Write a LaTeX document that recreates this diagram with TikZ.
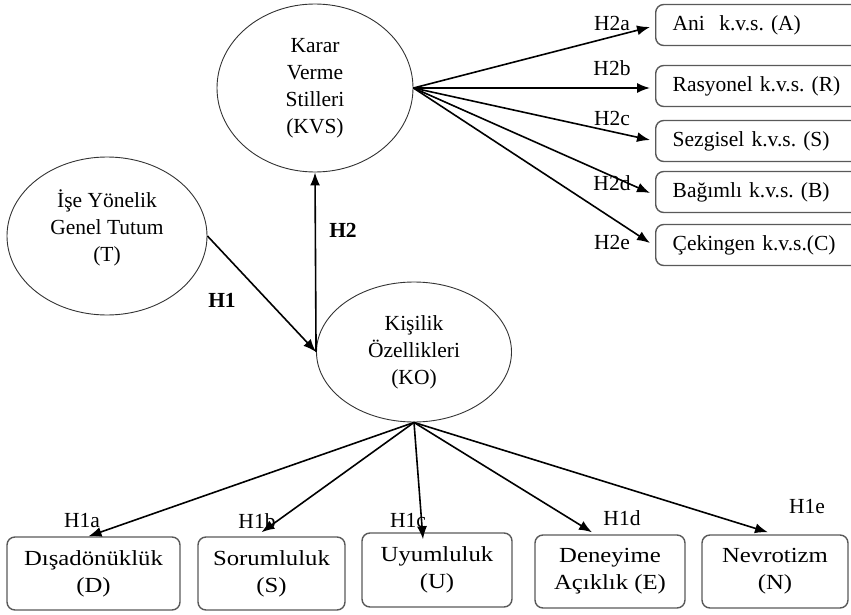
\documentclass[tikz,border=0pt]{standalone}
\usepackage{fontspec}
\setmainfont{Liberation Serif}
\newfontfamily\widefont[FakeStretch=1.15]{Liberation Serif}
\usetikzlibrary{shapes.geometric,arrows.meta,calc}
\frenchspacing
\begin{document}
\begin{tikzpicture}[x=1pt,y=-1pt,
  txt/.style={font=\fontsize{21.5}{27}\selectfont},
  ell/.style={draw=black!80,line width=0.9pt,ellipse,inner sep=0pt,align=center,txt},
  rbox/.style={draw=black!65,line width=1.4pt,rounded corners=8pt,minimum height=41pt,
    minimum width=205pt,text width=171pt,inner xsep=17pt,align=left,anchor=west,txt},
  bbox/.style={draw=black!65,line width=1.4pt,rounded corners=8pt,align=center,
    font=\widefont\fontsize{21.5}{27}\selectfont},
  arr/.style={line width=1.6pt,-{Latex[length=13pt,width=10pt]}},
  lab/.style={txt,inner sep=0pt},
  blab/.style={txt,inner sep=0pt,font=\fontsize{21.5}{27}\selectfont\bfseries}]
\clip (0,0) rectangle (851,615);
\useasboundingbox (0,0) rectangle (851,615);
% ellipses
\node[ell,minimum width=196pt,minimum height=168pt] (KVS) at (315,88) {Karar\\Verme\\Stilleri\\(KVS)};
\node[ell,minimum width=200pt,minimum height=158pt] (T) at (107,236) {};
\node[lab,align=center] (Tt) at (107,228) {İşe Yönelik\\Genel Tutum\\(T)};
\node[ell,minimum width=195pt,minimum height=140pt] (KO) at (414,352) {Kişilik\\Özellikleri\\(KO)};
% right boxes
\node[rbox] (A) at (655,25) {Ani\ \ k.v.s. (A)};
\node[rbox] (R) at (655,86) {Rasyonel k.v.s. (R)};
\node[rbox] (S2) at (655,141) {Sezgisel k.v.s. (S)};
\node[rbox] (B) at (655,192) {Bağımlı k.v.s. (B)};
\node[rbox] (C) at (655,245) {Çekingen k.v.s.(C)};
% bottom boxes
\node[bbox,minimum width=173pt,minimum height=73pt] (D) at (93.5,573.5) {Dışadönüklük\\(D)};
\node[bbox,minimum width=147pt,minimum height=73pt] (S) at (271.5,573.5) {Sorumluluk\\(S)};
\node[bbox,minimum width=150pt,minimum height=74pt] (U) at (437,570) {Uyumluluk\\(U)};
\node[bbox,minimum width=150pt,minimum height=73pt] (E) at (610,571.5) {Deneyime\\Açıklık (E)};
\node[bbox,minimum width=146pt,minimum height=73pt] (N) at (775,571.5) {Nevrotizm\\(N)};
% connectors
\draw[arr] (T.east) -- (KO.west);
\draw[arr] (KO.west) -- (KVS.south);
\draw[arr] (KVS.east) -- ($(A.west)+(-5,2)$);
\draw[arr] (KVS.east) -- ($(R.west)+(-5,2)$);
\draw[arr] (KVS.east) -- ($(S2.west)+(-5,-1)$);
\draw[arr] (KVS.east) -- ($(B.west)+(-5,1)$);
\draw[arr] (KVS.east) -- ($(C.west)+(-5,-2)$);
\draw[arr] (KO.south) -- ($(D.north)+(-5,0)$);
\draw[arr] (KO.south) -- ($(S.north)+(-10,-4)$);
\draw[arr] (KO.south) -- ($(U.north)+(-14,7)$);
\draw[arr] (KO.south) -- ($(E.north)+(-18,-2)$);
\draw[arr] (KO.south) -- ($(N.north)+(-7,-2)$);
% labels
\node[blab] (H1) at (222,300) {H1};
\node[blab] (H2) at (343,230) {H2};
\node[lab] (H2a) at (612,23) {H2a};
\node[lab] (H2b) at (612,68) {H2b};
\node[lab] (H2c) at (612,118) {H2c};
\node[lab] (H2d) at (612,183) {H2d};
\node[lab] (H2e) at (612,242) {H2e};
\node[lab] (H1a) at (82,521) {H1a};
\node[lab] (H1b) at (257,521) {H1b};
\node[lab] (H1c) at (408,521) {H1c};
\node[lab] (H1d) at (622,518) {H1d};
\node[lab] (H1e) at (807,507) {H1e};
\end{tikzpicture}
\end{document}
